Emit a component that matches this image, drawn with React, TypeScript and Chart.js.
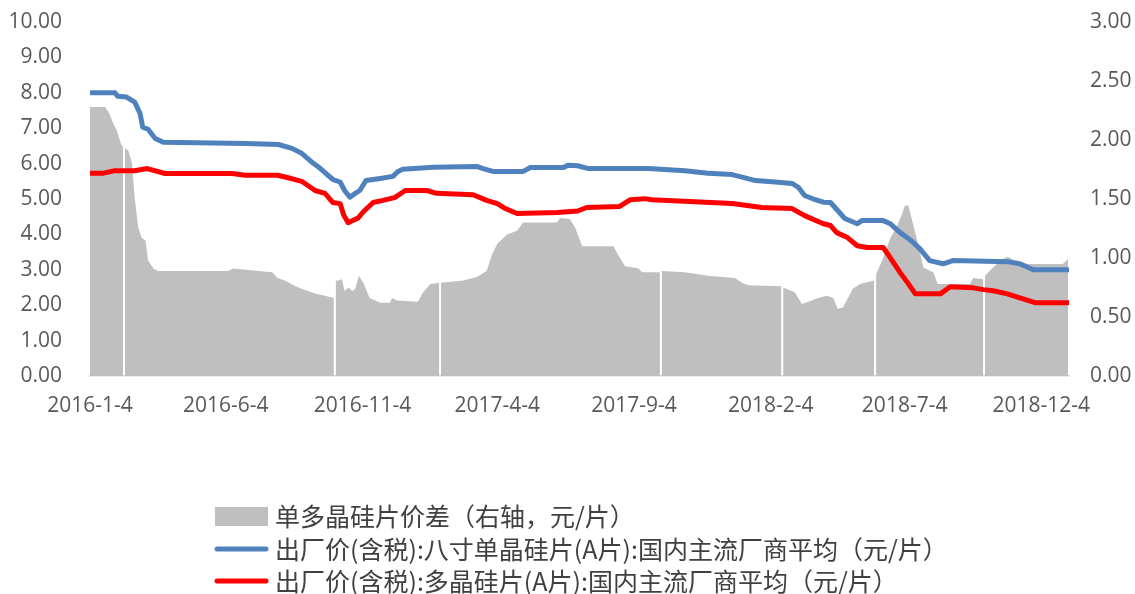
import { useEffect, useRef } from "react";
import { Chart, registerables } from "chart.js";

Chart.register(...registerables);

// x values are days since 2016-01-04
const startDate = "2016-1-4";
const endDate = "2019-1-4";
const xTickLabels = ["2016-1-4", "2016-6-4", "2016-11-4", "2017-4-4", "2017-9-4", "2018-2-4", "2018-7-4", "2018-12-4"];

const seriesNames = [
  "单多晶硅片价差（右轴，元/片）",
  "出厂价(含税):八寸单晶硅片(A片):国内主流厂商平均（元/片）",
  "出厂价(含税):多晶硅片(A片):国内主流厂商平均（元/片）",
];

// 单多晶硅片价差 (right axis) [day, value]
const spreadData: [number, number][] = [
  [0, 2.28], [17, 2.28], [22, 2.22], [26, 2.14], [30, 2.08], [35, 1.96], [37, 1.94], [39, 1.93], [43, 1.91],
  [47, 1.8], [50, 1.51], [54, 1.26], [58, 1.17], [62, 1.15], [65, 0.98], [71, 0.91], [76, 0.89], [155, 0.89],
  [160, 0.91], [204, 0.88], [210, 0.83], [218, 0.81], [233, 0.75], [252, 0.7], [263, 0.68], [273, 0.66],
  [275, 0.81], [278, 0.81], [282, 0.82], [285, 0.72], [289, 0.75], [294, 0.72], [297, 0.74], [301, 0.85],
  [306, 0.79], [313, 0.66], [325, 0.62], [336, 0.62], [338, 0.66], [344, 0.64], [367, 0.63], [373, 0.71],
  [381, 0.78], [391, 0.79], [393, 0.79], [418, 0.81], [433, 0.84], [444, 0.89], [450, 1.03], [456, 1.12],
  [467, 1.2], [478, 1.23], [485, 1.3], [523, 1.3], [526, 1.34], [537, 1.33], [543, 1.26], [551, 1.1],
  [586, 1.1], [591, 1.03], [599, 0.93], [614, 0.91], [618, 0.88], [638, 0.88], [640, 0.89], [666, 0.88],
  [692, 0.85], [722, 0.83], [730, 0.79], [737, 0.77], [774, 0.76], [776, 0.75], [789, 0.71], [797, 0.61],
  [808, 0.64], [815, 0.66], [825, 0.68], [832, 0.66], [837, 0.57], [843, 0.58], [854, 0.74], [862, 0.78],
  [878, 0.81], [880, 0.86], [888, 1.0], [896, 1.17], [903, 1.26], [909, 1.37], [912, 1.44], [916, 1.45],
  [921, 1.3], [926, 1.15], [933, 0.92], [944, 0.88], [949, 0.78], [985, 0.78], [989, 0.83], [1000, 0.82],
  [1002, 0.85], [1011, 0.92], [1021, 0.99], [1028, 1.01], [1038, 0.96], [1052, 0.95], [1089, 0.95], [1095, 0.99],
];

// days with no spread data (holidays)
const spreadGapDays = [38, 274, 392, 639, 775, 879, 1001];

// 八寸单晶硅片 price (left axis) [day, value]
const monoPrice: [number, number][] = [
  [0, 8.0], [28, 8.0], [31, 7.9], [41, 7.88], [50, 7.74], [56, 7.42], [59, 7.03], [65, 6.97], [73, 6.71],
  [82, 6.6], [174, 6.57], [211, 6.54], [226, 6.43], [237, 6.29], [249, 6.03], [258, 5.86], [265, 5.7],
  [272, 5.55], [280, 5.48], [285, 5.24], [291, 5.05], [297, 5.16], [302, 5.24], [309, 5.52], [325, 5.58],
  [339, 5.64], [345, 5.78], [350, 5.84], [384, 5.9], [433, 5.92], [440, 5.86], [451, 5.78], [485, 5.78],
  [493, 5.89], [530, 5.89], [535, 5.95], [546, 5.94], [558, 5.86], [625, 5.86], [666, 5.8], [692, 5.73],
  [719, 5.69], [730, 5.62], [745, 5.52], [767, 5.48], [786, 5.44], [793, 5.33], [800, 5.1], [812, 4.98],
  [821, 4.91], [829, 4.9], [840, 4.59], [845, 4.45], [859, 4.3], [864, 4.39], [888, 4.39], [896, 4.3],
  [907, 4.05], [918, 3.85], [929, 3.6], [940, 3.26], [955, 3.17], [966, 3.26], [1027, 3.23], [1041, 3.17],
  [1056, 3.0], [1095, 3.0],
];

// 多晶硅片 price (left axis) [day, value]
const polyPrice: [number, number][] = [
  [0, 5.73], [15, 5.73], [28, 5.8], [50, 5.8], [64, 5.86], [84, 5.72], [159, 5.72], [174, 5.67], [210, 5.67],
  [222, 5.6], [237, 5.5], [252, 5.24], [263, 5.16], [272, 4.9], [280, 4.87], [284, 4.55], [289, 4.33],
  [294, 4.39], [300, 4.46], [306, 4.64], [317, 4.9], [328, 4.96], [341, 5.04], [353, 5.24], [377, 5.24],
  [388, 5.16], [429, 5.12], [444, 4.96], [456, 4.87], [465, 4.73], [478, 4.59], [523, 4.62], [546, 4.66],
  [556, 4.76], [593, 4.79], [605, 4.98], [621, 5.01], [629, 4.98], [719, 4.87], [752, 4.76], [786, 4.73],
  [800, 4.53], [821, 4.3], [829, 4.25], [836, 4.05], [848, 3.91], [859, 3.68], [870, 3.63], [888, 3.63],
  [896, 3.34], [907, 2.92], [916, 2.61], [924, 2.32], [952, 2.32], [963, 2.52], [989, 2.49], [1000, 2.44],
  [1011, 2.41], [1027, 2.32], [1041, 2.21], [1058, 2.07], [1095, 2.07],
];

const leftAxis = { min: 0, max: 10, step: 1 };
const rightAxis = { min: 0, max: 3, step: 0.5 };

const colors = { spread: "#BFBFBF", mono: "#4F81BD", poly: "#FF0000", text: "#595959", legendText: "#404040" };

function dayOf(s: string): number {
  const [y, m, d] = s.split("-").map(Number);
  const [y0, m0, d0] = startDate.split("-").map(Number);
  return Math.round((Date.UTC(y, m - 1, d) - Date.UTC(y0, m0 - 1, d0)) / 86400000);
}

const tickFont = { family: "'Open Sans', 'Liberation Sans', sans-serif", size: 21 };

export default function App() {
  const ref = useRef<HTMLCanvasElement | null>(null);

  useEffect(() => {
    if (!ref.current) return;
    const tickDays = xTickLabels.map(dayOf);
    const labelByDay = new Map<number, string>();
    xTickLabels.forEach((l, i) => labelByDay.set(tickDays[i], l));

    const spreadPts: { x: number; y: number | null }[] = [
      ...spreadData.map(([x, y]) => ({ x, y })),
      ...spreadGapDays.map((x) => ({ x, y: null })),
    ].sort((a, b) => a.x - b.x);

    const legendPlugin = {
      id: "stackedLegend",
      afterDraw(chart: any) {
        const ctx = chart.ctx as CanvasRenderingContext2D;
        const left = 215;
        const markW = 53;
        const textX = 275;
        const rowY = [516, 549, 581];
        ctx.save();
        ctx.font = "25px 'Noto Sans CJK SC', sans-serif";
        ctx.textBaseline = "middle";
        ctx.textAlign = "left";
        chart.data.datasets.forEach((ds: any, i: number) => {
          const y = rowY[i];
          if (i === 0) {
            ctx.fillStyle = ds.backgroundColor;
            ctx.fillRect(left, y - 9, markW, 19);
          } else {
            ctx.strokeStyle = ds.borderColor;
            ctx.lineWidth = 5;
            ctx.lineCap = "round";
            ctx.beginPath();
            ctx.moveTo(left + 2, y);
            ctx.lineTo(left + markW - 2, y);
            ctx.stroke();
          }
          ctx.fillStyle = colors.legendText;
          ctx.fillText(ds.label, textX, y);
        });
        ctx.restore();
      },
    };

    const fitY = (width: number) => (axis: any) => {
      axis.width = width;
      axis.paddingTop = 0;
      axis.paddingBottom = 0;
    };

    const chart = new Chart(ref.current, {
      type: "line",
      data: {
        datasets: [
          {
            label: seriesNames[0],
            data: spreadPts as any,
            yAxisID: "y2",
            backgroundColor: colors.spread,
            borderColor: colors.spread,
            borderWidth: 0,
            pointRadius: 0,
            fill: "origin",
            spanGaps: false,
            tension: 0,
            order: 3,
          },
          {
            label: seriesNames[1],
            data: monoPrice.map(([x, y]) => ({ x, y })),
            yAxisID: "y",
            borderColor: colors.mono,
            backgroundColor: colors.mono,
            borderWidth: 5,
            pointRadius: 0,
            fill: false,
            tension: 0,
            borderJoinStyle: "round",
            borderCapStyle: "round",
            order: 1,
          },
          {
            label: seriesNames[2],
            data: polyPrice.map(([x, y]) => ({ x, y })),
            yAxisID: "y",
            borderColor: colors.poly,
            backgroundColor: colors.poly,
            borderWidth: 5,
            pointRadius: 0,
            fill: false,
            tension: 0,
            borderJoinStyle: "round",
            borderCapStyle: "round",
            order: 2,
          },
        ],
      },
      options: {
        responsive: false,
        animation: false,
        events: [],
        layout: { padding: { top: 22, left: 0, right: 0, bottom: 0 } },
        plugins: { legend: { display: false }, tooltip: { enabled: false } },
        scales: {
          x: {
            type: "linear",
            min: 0,
            max: dayOf(endDate),
            grid: { display: false, drawTicks: false },
            border: { display: true, color: "#D9D9D9", width: 1.5 },
            afterBuildTicks: (axis: any) => {
              axis.ticks = tickDays.map((v) => ({ value: v }));
            },
            afterFit: (axis: any) => {
              axis.height = 218;
            },
            ticks: {
              autoSkip: false,
              maxRotation: 0,
              minRotation: 0,
              padding: 17,
              color: colors.text,
              font: tickFont,
              callback: (v: any) => labelByDay.get(Number(v)) ?? "",
            },
          },
          y: {
            position: "left",
            min: leftAxis.min,
            max: leftAxis.max,
            grid: { display: false, drawTicks: false },
            border: { display: false },
            afterFit: fitY(90),
            ticks: {
              stepSize: leftAxis.step,
              padding: 28,
              color: colors.text,
              font: tickFont,
              callback: (v: any) => Number(v).toFixed(2),
            },
          },
          y2: {
            position: "right",
            min: rightAxis.min,
            max: rightAxis.max,
            grid: { display: false, drawTicks: false },
            border: { display: false },
            afterFit: fitY(66),
            ticks: {
              stepSize: rightAxis.step,
              padding: 21,
              color: colors.text,
              font: tickFont,
              callback: (v: any) => Number(v).toFixed(2),
            },
          },
        },
      },
      plugins: [legendPlugin],
    });
    return () => chart.destroy();
  }, []);

  return (
    <div style={{ position: "absolute", left: 0, top: 0, width: 1135, height: 594, background: "#fff" }}>
      <canvas ref={ref} width={1135} height={594} style={{ display: "block" }} />
    </div>
  );
}
